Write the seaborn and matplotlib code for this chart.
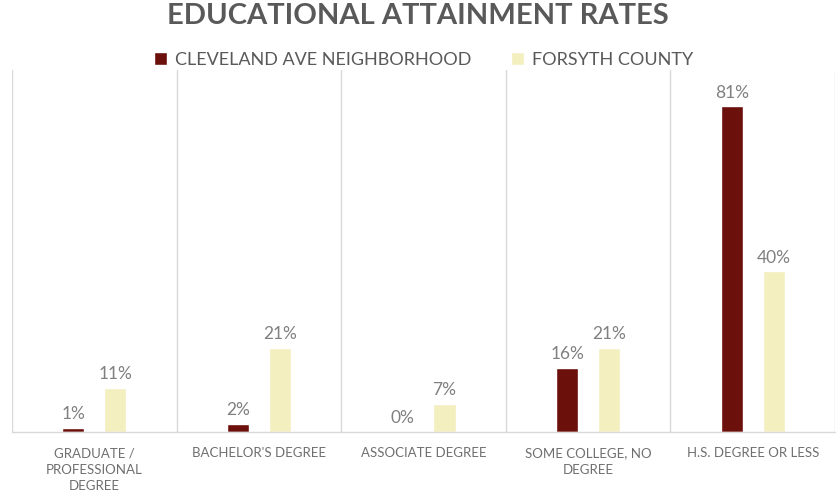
import matplotlib
matplotlib.use("Agg")
import matplotlib.pyplot as plt
import seaborn as sns
import pandas as pd
from matplotlib.ticker import NullLocator

categories = ["GRADUATE /\nPROFESSIONAL\nDEGREE", "BACHELOR'S DEGREE", "ASSOCIATE DEGREE",
              "SOME COLLEGE, NO\nDEGREE", "H.S. DEGREE OR LESS"]
series_names = ["CLEVELAND AVE NEIGHBORHOOD", "FORSYTH COUNTY"]
cleveland = [1, 2, 0, 16, 81]
forsyth = [11, 21, 7, 21, 40]
colors = ["#6B100A", "#F3EFBF"]

df = pd.DataFrame({
    "category": categories * 2,
    "series": [series_names[0]] * len(categories) + [series_names[1]] * len(categories),
    "value": cleveland + forsyth,
})

sns.set_theme(style="white")
plt.rcParams["font.family"] = ["Lato", "DejaVu Sans"]

fig = plt.figure(figsize=(8.36, 4.94), dpi=100)
ax = fig.add_axes([12 / 836, 1 - 432 / 494, 823 / 836, (432 - 70) / 494])

sns.barplot(data=df, x="category", y="value", hue="series", order=categories,
            hue_order=series_names, palette=colors, width=0.51, gap=0.47,
            saturation=1, ax=ax, legend=True)

for cont in ax.containers:
    ax.bar_label(cont, fmt="%d%%", padding=4, color="#808080", fontsize=12.5)

ax.set_ylim(0, 90)
ax.set_xlim(-0.5, len(categories) - 0.5)
ax.yaxis.set_major_locator(NullLocator())
ax.set_xlabel("")
ax.set_ylabel("")
for s in ["left", "right", "top"]:
    ax.spines[s].set_visible(False)
ax.spines["bottom"].set_color("#D9D9D9")
ax.spines["bottom"].set_linewidth(1.0)
for xv in [i - 0.5 for i in range(len(categories) + 1)]:
    ax.axvline(xv, color="#D9D9D9", lw=1.0, zorder=0)

ax.tick_params(axis="x", length=0, pad=11, labelsize=9.5, labelcolor="#6F6F6F")
for lbl in ax.get_xticklabels():
    lbl.set_linespacing(1.45)

leg = ax.legend(loc="center", bbox_to_anchor=(0.5, 1 + 10 / 362), ncol=2, frameon=False,
                fontsize=13, handlelength=0.72, handleheight=0.72, columnspacing=2.2,
                handletextpad=0.45, borderaxespad=0.0, borderpad=0.0)
for t in leg.get_texts():
    t.set_color("#595959")

fig.text(0.5, 1 - 16 / 494, "EDUCATIONAL ATTAINMENT RATES", ha="center", va="center",
         fontsize=21, fontweight="bold", color="#595959")

fig.savefig("out.png", dpi=100)
